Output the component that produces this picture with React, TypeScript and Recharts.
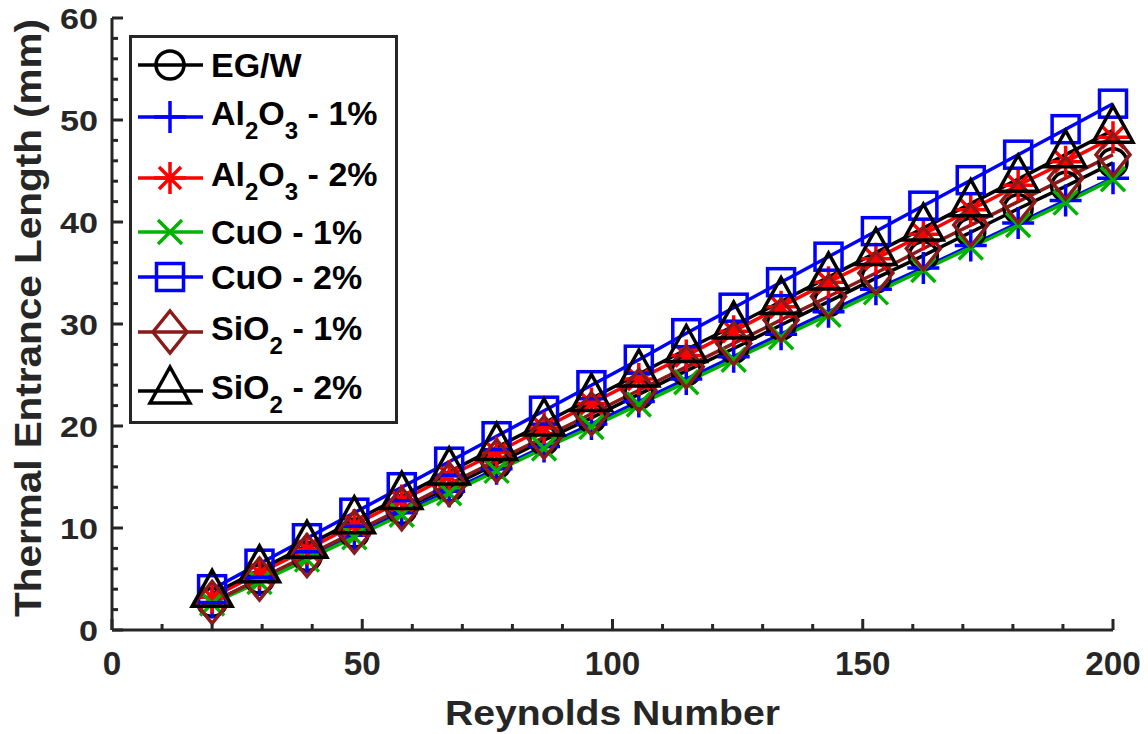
import React from 'react';
import { LineChart, Line, XAxis, YAxis, Legend } from 'recharts';

// Reynolds numbers (20 points from 20 to 200)
const reynolds = [20, 29.47, 38.95, 48.42, 57.89, 67.37, 76.84, 86.32, 95.79, 105.26, 114.74, 124.21, 133.68, 143.16, 152.63, 162.11, 171.58, 181.05, 190.53, 200];

// thermal entrance length (mm)
const egw = [2.7, 5.0, 7.2, 9.5, 11.8, 14.0, 16.3, 18.6, 20.8, 23.1, 25.4, 27.6, 29.9, 32.2, 34.5, 36.7, 39.0, 41.3, 43.5, 45.8];
const al2o3One = [2.7, 4.9, 7.1, 9.3, 11.5, 13.6, 15.8, 18.0, 20.2, 22.4, 24.6, 26.8, 29.0, 31.2, 33.4, 35.5, 37.7, 39.9, 42.1, 44.3];
const al2o3Two = [3.2, 5.6, 7.9, 10.3, 12.7, 15.1, 17.4, 19.8, 22.2, 24.6, 26.9, 29.3, 31.7, 34.1, 36.4, 38.8, 41.2, 43.6, 45.9, 48.3];
const cuoOne = [2.6, 4.7, 6.9, 9.1, 11.3, 13.4, 15.6, 17.8, 19.9, 22.1, 24.3, 26.5, 28.7, 30.9, 33.1, 35.3, 37.5, 39.7, 41.9, 44.2];
const cuoTwo = [4.0, 6.5, 9.0, 11.5, 14.0, 16.5, 19.0, 21.5, 24.0, 26.5, 29.1, 31.6, 34.1, 36.6, 39.1, 41.6, 44.1, 46.6, 49.1, 51.6];
const sio2One = [2.7, 5.0, 7.3, 9.6, 11.9, 14.3, 16.6, 18.9, 21.2, 23.5, 25.8, 28.1, 30.4, 32.7, 35.0, 37.4, 39.7, 42.0, 44.3, 46.6];
const sio2Two = [3.5, 5.9, 8.3, 10.7, 13.1, 15.5, 17.9, 20.3, 22.7, 25.1, 27.5, 29.8, 32.2, 34.6, 37.0, 39.4, 41.8, 44.2, 46.6, 49.0];

const xTicks = [0, 10, 20, 30, 40, 50, 60, 70, 80, 90, 100, 110, 120, 130, 140, 150, 160, 170, 180, 190, 200];
const yTicks = [0, 2, 4, 6, 8, 10, 12, 14, 16, 18, 20, 22, 24, 26, 28, 30, 32, 34, 36, 38, 40, 42, 44, 46, 48, 50, 52, 54, 56, 58, 60];

const AXIS = '#262626';
const FONT = '"Liberation Sans", Arial, Helvetica, sans-serif';

type Shape = 'circle' | 'plus' | 'star' | 'x' | 'square' | 'diamond' | 'triangle';

const series: { key: string; color: string; shape: Shape; label: [string, string?, string?, string?, string?] }[] = [
  { key: 'egw', color: '#000000', shape: 'circle', label: ['EG/W'] },
  { key: 'al2o3One', color: '#0000ff', shape: 'plus', label: ['Al', '2', 'O', '3', ' - 1%'] },
  { key: 'al2o3Two', color: '#ff0000', shape: 'star', label: ['Al', '2', 'O', '3', ' - 2%'] },
  { key: 'cuoOne', color: '#00b300', shape: 'x', label: ['CuO - 1%'] },
  { key: 'cuoTwo', color: '#0000ff', shape: 'square', label: ['CuO - 2%'] },
  { key: 'sio2One', color: '#8b1a1a', shape: 'diamond', label: ['SiO', '2', ' - 1%'] },
  { key: 'sio2Two', color: '#000000', shape: 'triangle', label: ['SiO', '2', ' - 2%'] },
];

const data = reynolds.map((re, i) => ({
  re,
  egw: egw[i],
  al2o3One: al2o3One[i],
  al2o3Two: al2o3Two[i],
  cuoOne: cuoOne[i],
  cuoTwo: cuoTwo[i],
  sio2One: sio2One[i],
  sio2Two: sio2Two[i],
}));

const Marker = ({ shape, cx, cy, color }: { shape: Shape; cx: number; cy: number; color: string }) => {
  const common = { fill: 'none', stroke: color, strokeWidth: 3.5 };
  switch (shape) {
    case 'circle':
      return <circle cx={cx} cy={cy} r={14} {...common} />;
    case 'plus':
      return <path d={`M${cx - 16},${cy}H${cx + 16}M${cx},${cy - 16}V${cy + 16}`} {...common} />;
    case 'star':
      return (
        <path
          d={`M${cx - 16},${cy}H${cx + 16}M${cx},${cy - 16}V${cy + 16}M${cx - 11},${cy - 11}L${cx + 11},${cy + 11}M${cx - 11},${cy + 11}L${cx + 11},${cy - 11}`}
          {...common}
        />
      );
    case 'x':
      return <path d={`M${cx - 12},${cy - 12}L${cx + 12},${cy + 12}M${cx - 12},${cy + 12}L${cx + 12},${cy - 12}`} {...common} />;
    case 'square':
      return <rect x={cx - 13.5} y={cy - 13.5} width={27} height={27} {...common} />;
    case 'diamond':
      return <path d={`M${cx},${cy - 21}L${cx + 17},${cy}L${cx},${cy + 21}L${cx - 17},${cy}Z`} {...common} />;
    case 'triangle':
      return <path d={`M${cx},${cy - 24}L${cx + 20},${cy + 12}L${cx - 20},${cy + 12}Z`} {...common} />;
    default:
      return null;
  }
};

const XTick = (props: any) => {
  const { x, y, payload } = props;
  const major = payload.value % 50 === 0;
  return (
    <g>
      <line x1={x} x2={x} y1={y} y2={y - (major ? 11 : 6)} stroke={AXIS} strokeWidth={3} />
      {major && (
        <text x={x} y={y + 45} textAnchor="middle" fill={AXIS} fontFamily={FONT} fontWeight="bold" fontSize={33}
          textLength={String(payload.value).length * 18.5} lengthAdjust="spacingAndGlyphs">
          {payload.value}
        </text>
      )}
    </g>
  );
};

const YTick = (props: any) => {
  const { x, y, payload } = props;
  const major = payload.value % 10 === 0;
  return (
    <g>
      <line x1={x} x2={x + (major ? 11 : 6)} y1={y} y2={y} stroke={AXIS} strokeWidth={3} />
      {major && (
        <text x={x - 14} y={y + 11} textAnchor="end" fill={AXIS} fontFamily={FONT} fontWeight="bold" fontSize={30}
          textLength={String(payload.value).length * 19} lengthAdjust="spacingAndGlyphs">
          {payload.value}
        </text>
      )}
    </g>
  );
};

const rowY = [30, 82, 143, 197, 242, 297, 356];

const LegendBox = () => (
  <svg width={270} height={390} style={{ display: 'block' }}>
    <rect x={1.5} y={1.5} width={266} height={386} fill="#ffffff" stroke={AXIS} strokeWidth={3} />
    {series.map((s, i) => {
      const y = rowY[i];
      const [a, b, c, d, e] = s.label;
      const hasSub = b !== undefined;
      const base = y + (hasSub ? 8 : 12);
      return (
        <g key={s.key}>
          <line x1={9} x2={74} y1={y} y2={y} stroke={s.color} strokeWidth={3.5} />
          <Marker shape={s.shape} cx={41} cy={y} color={s.color} />
          <text x={82} y={base} fill="#000" fontFamily={FONT} fontWeight="bold" fontSize={34} style={{ whiteSpace: 'pre' }}>
            <tspan>{a}</tspan>
            {b !== undefined && <tspan fontSize={24} dy={14}>{b}</tspan>}
            {c !== undefined && <tspan dy={-14}>{c}</tspan>}
            {d !== undefined && <tspan fontSize={24} dy={14}>{d}</tspan>}
            {e !== undefined && <tspan dy={-14}>{e}</tspan>}
          </text>
        </g>
      );
    })}
  </svg>
);

export default function App() {
  return (
    <div style={{ position: 'absolute', left: 0, top: 0, background: '#fff' }}>
      <LineChart width={1148} height={734} data={data} margin={{ top: 18, right: 35, left: 12, bottom: 0 }}>
        <XAxis
          type="number"
          dataKey="re"
          domain={[0, 200]}
          ticks={xTicks}
          interval={0}
          tickLine={false}
          tickSize={0}
          tickMargin={0}
          tick={<XTick />}
          axisLine={{ stroke: AXIS, strokeWidth: 3 }}
          height={104}
          label={(p: any) => {
            const vb = p.viewBox;
            return (
              <text x={vb.x + vb.width / 2} y={725} textAnchor="middle" fill={AXIS} fontFamily={FONT} fontWeight="bold" fontSize={35} textLength={335} lengthAdjust="spacingAndGlyphs">
                Reynolds Number
              </text>
            );
          }}
        />
        <YAxis
          type="number"
          domain={[0, 60]}
          ticks={yTicks}
          interval={0}
          tickLine={false}
          tickSize={0}
          tickMargin={0}
          tick={<YTick />}
          axisLine={{ stroke: AXIS, strokeWidth: 3 }}
          width={100}
          label={() => (
            <text
              x={0}
              y={0}
              transform="translate(41 318) rotate(-90)"
              textAnchor="middle"
              fill={AXIS}
              fontFamily={FONT}
              fontWeight="bold"
              fontSize={36}
              textLength={598}
              lengthAdjust="spacingAndGlyphs"
            >
              Thermal Entrance Length (mm)
            </text>
          )}
        />
        <Legend
          layout="vertical"
          align="center"
          verticalAlign="middle"
          wrapperStyle={{ left: 129, top: 35, width: 270, height: 390 }}
          content={() => <LegendBox />}
        />
        {series.map((s) => (
          <Line
            key={s.key}
            dataKey={s.key}
            stroke={s.color}
            strokeWidth={3.5}
            type="linear"
            isAnimationActive={false}
            dot={(p: any) => (
              <g key={`${s.key}-${p.index}`}>
                <Marker shape={s.shape} cx={p.cx} cy={p.cy} color={s.color} />
              </g>
            )}
            activeDot={false}
          />
        ))}
      </LineChart>
    </div>
  );
}
